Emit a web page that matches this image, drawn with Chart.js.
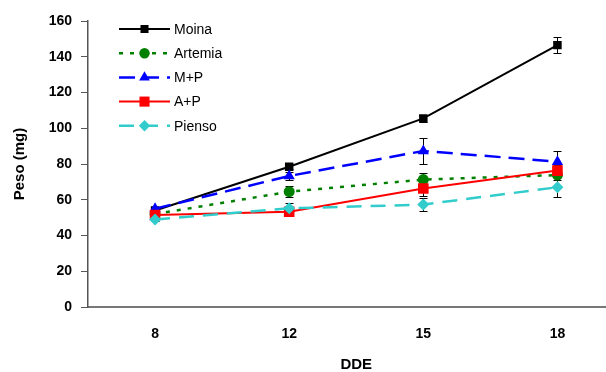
<!DOCTYPE html>
<html>
<head>
<meta charset="utf-8">
<script src="https://cdn.jsdelivr.net/npm/chart.js@4/dist/chart.umd.min.js"></script>
<style>
  html, body { margin: 0; padding: 0; background: #fff; overflow: hidden; }
  /* plot runs past the right edge of the window, like the original */
  #wrap { width: 632px; height: 372px; }
</style>
</head>
<body>
<div id="wrap"><canvas id="canvas" width="632" height="372"></canvas></div>
<script>
// days (DDE) on the x axis
const days = ["8", "12", "15", "18"];
const seriesNames = ["Moina", "Artemia", "M+P", "A+P", "Pienso"];

// weight (mg) per diet
const moina = [54, 78.5, 105.5, 146.5];
const artemia = [52, 64.5, 71.3, 73.8];
const mp = [55, 73.3, 87.3, 81.3];
const ap = [51.5, 53.3, 66.3, 76.3];
const pienso = [49, 55.2, 57.3, 67];

// error bars (+/-)
const moinaErr = [1, 1.5, 2, 4.5];
const artemiaErr = [1, 3, 3.5, 2.5];
const mpErr = [1, 2, 7.5, 6];
const apErr = [1, 2, 4, 3];
const piensoErr = [1, 3, 3.8, 5.5];

const yTicks = [0, 20, 40, 60, 80, 100, 120, 140, 160];

const styles = [
  { color: "#000000", dash: [], style: "rect", radius: 6, width: 2 },
  { color: "#008000", dash: [4, 7], style: "circle", radius: 5.5, width: 2.5 },
  { color: "#0000ff", dash: [16, 8], style: "triangle", radius: 6.5, width: 2.5 },
  { color: "#ff0000", dash: [], style: "rect", radius: 7.5, width: 2 },
  { color: "#33cccc", dash: [15, 9], style: "rectRot", radius: 6, width: 2.5 },
];
const values = [moina, artemia, mp, ap, pienso];
const errors = [moinaErr, artemiaErr, mpErr, apErr, piensoErr];

const datasets = seriesNames.map((name, i) => {
  const s = styles[i];
  return {
    label: name,
    data: values[i],
    errors: errors[i],
    borderColor: s.color,
    backgroundColor: s.color,
    borderWidth: s.width,
    borderDash: s.dash,
    pointStyle: s.style,
    pointRadius: s.radius,
    pointBorderWidth: 0,
    pointBackgroundColor: s.color,
    pointHoverRadius: s.radius,
    tension: 0,
    order: seriesNames.length - i, // later series on top
  };
});

//! error bars drawn under the markers
const errorBars = {
  id: "errorBars",
  beforeDatasetsDraw(chart) {
    const ctx = chart.ctx;
    const y = chart.scales.y;
    ctx.save();
    ctx.strokeStyle = "#000";
    ctx.lineWidth = 1;
    chart.data.datasets.forEach((ds, i) => {
      const meta = chart.getDatasetMeta(i);
      meta.data.forEach((pt, j) => {
        const v = ds.data[j];
        const e = ds.errors[j];
        const top = Math.round(y.getPixelForValue(v + e)) + 0.5;
        const bot = Math.round(y.getPixelForValue(v - e)) + 0.5;
        const x = Math.round(pt.x) + 0.5;
        ctx.beginPath();
        ctx.moveTo(x, top);
        ctx.lineTo(x, bot);
        ctx.moveTo(x - 4, top);
        ctx.lineTo(x + 4, top);
        ctx.moveTo(x - 4, bot);
        ctx.lineTo(x + 4, bot);
        ctx.stroke();
      });
    });
    ctx.restore();
  },
};

//! legend inside the plot, line + marker + text
const insideLegend = {
  id: "insideLegend",
  afterDraw(chart) {
    const ctx = chart.ctx;
    ctx.save();
    chart.data.datasets.forEach((ds, i) => {
      const yy = 29 + i * 24.2;
      ctx.strokeStyle = ds.borderColor;
      ctx.lineWidth = ds.borderWidth;
      ctx.setLineDash(ds.borderDash);
      ctx.beginPath();
      ctx.moveTo(119, yy);
      ctx.lineTo(170, yy);
      ctx.stroke();
      ctx.setLineDash([]);
      ctx.fillStyle = ds.backgroundColor;
      Chart.helpers.drawPoint(ctx, {
        pointStyle: ds.pointStyle,
        radius: ds.pointRadius * 0.95,
        rotation: 0,
        borderWidth: 0,
      }, 144.5, yy);
      ctx.fillStyle = "#000";
      ctx.font = "14px 'Liberation Sans', Arial, sans-serif";
      ctx.textBaseline = "middle";
      ctx.textAlign = "left";
      ctx.fillText(ds.label, 174, yy + 1);
    });
    ctx.restore();
  },
};

const boldTick = { family: "'Liberation Sans', Arial, sans-serif", size: 14, weight: "bold" };

const config = {
  type: "line",
  data: { labels: days, datasets: datasets },
  options: {
    responsive: false,
    animation: false,
    layout: { padding: { top: 21, right: 0, bottom: 0, left: 0 } },
    plugins: {
      legend: { display: false },
      tooltip: { enabled: false },
    },
    scales: {
      x: {
        type: "category",
        offset: true,
        grid: { display: false, drawTicks: false },
        border: { display: true, color: "#777", width: 2 },
        ticks: { color: "#000", font: boldTick, padding: 19 },
        title: {
          display: true,
          text: "DDE",
          color: "#000",
          font: { family: "'Liberation Sans', Arial, sans-serif", size: 15, weight: "bold", lineHeight: 1 },
          padding: { top: 0, bottom: 0 },
        },
        afterFit: (scale) => { scale.height = 65; },
      },
      y: {
        min: 0,
        max: 160,
        afterBuildTicks: (scale) => { scale.ticks = yTicks.map((v) => ({ value: v })); },
        grid: { drawOnChartArea: false, drawTicks: true, tickLength: 7, color: "#555" },
        border: { display: true, color: "#555", width: 1.5 },
        ticks: { color: "#000", font: boldTick, padding: 9 },
        title: {
          display: true,
          text: "Peso (mg)",
          color: "#000",
          font: { family: "'Liberation Sans', Arial, sans-serif", size: 15, weight: "bold", lineHeight: 1.2 },
          padding: { top: 11, bottom: 0 },
        },
        afterFit: (scale) => { scale.width = 88; },
      },
    },
  },
  plugins: [errorBars, insideLegend],
};

const myChart = new Chart(document.getElementById("canvas"), config);
</script>
</body>
</html>
